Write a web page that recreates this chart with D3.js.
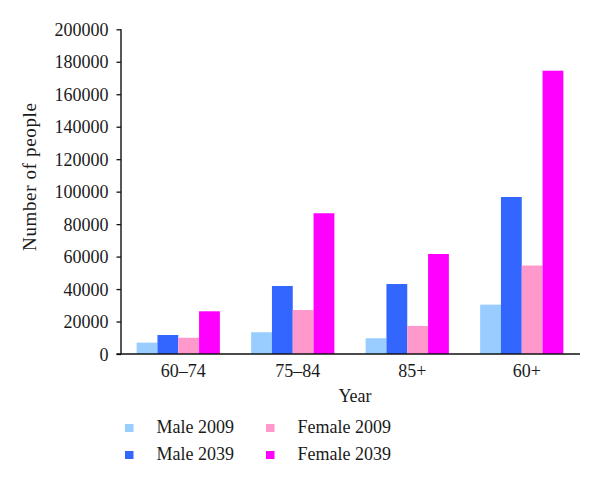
<!DOCTYPE html>
<html><head><meta charset="utf-8">
<script src="https://cdn.jsdelivr.net/npm/d3@7"></script>
<style>body{margin:0;background:#fff}svg{display:block}text{font-family:"Liberation Serif","Times New Roman",serif;fill:#1a1a1a}</style>
</head><body><svg id="c" width="600" height="483"></svg>
<script>
const categories = ["60–74","75–84","85+","60+"];
const seriesNames = ["Male 2009","Male 2039","Female 2009","Female 2039"];
const male2009 = [7000, 13400, 9700, 30400];
const male2039 = [11700, 41900, 43100, 96700];
const female2009 = [10000, 27100, 17300, 54500];
const female2039 = [26300, 86700, 61600, 174500];
const yTicks = [0,20000,40000,60000,80000,100000,120000,140000,160000,180000,200000];
const colors = ["#99ccff","#3366ff","#ff99cc","#ff00ff"];

const series = [male2009, male2039, female2009, female2039];
const svg = d3.select("#c");
const x0 = d3.scaleBand().domain(categories).range([121,579]).paddingInner(0.273).paddingOuter(0.1365);
const x1 = d3.scaleBand().domain(seriesNames).range([0,x0.bandwidth()]);
const y = d3.scaleLinear().domain([0,200000]).range([354,29.3]);

const g = svg.append("g");
categories.forEach((c,i)=>{
  series.forEach((s,j)=>{
    g.append("rect").attr("x",x0(c)+x1(seriesNames[j])).attr("y",y(s[i]))
     .attr("width",x1.bandwidth()).attr("height",y(0)-y(s[i])).attr("fill",colors[j]);
  });
});

// y axis
const ya = svg.append("g").attr("transform","translate(121,0)")
  .call(d3.axisLeft(y).tickValues(yTicks).tickFormat(d3.format("d")).tickSize(4.5).tickPadding(8));
ya.select(".domain").attr("stroke","#111").attr("stroke-width",1.4).attr("d","M0,29.3V354");
ya.selectAll(".tick line").attr("stroke","#111").attr("stroke-width",1.3);
ya.selectAll(".tick text").attr("font-size",18).attr("font-family","Liberation Serif").attr("fill","#1a1a1a").attr("dy","0.34em");

// x axis
const xa = svg.append("g").attr("transform","translate(0,354)")
  .call(d3.axisBottom(x0).tickSize(0).tickPadding(10));
xa.select(".domain").attr("stroke","#111").attr("stroke-width",1.4).attr("d","M116.5,0H580");
xa.selectAll(".tick text").attr("font-size",18).attr("font-family","Liberation Serif").attr("fill","#1a1a1a").attr("dx",5).attr("dy","0.71em");

svg.append("text").attr("x",355).attr("y",401.5).attr("text-anchor","middle").attr("font-size",18).text("Year");
svg.append("text").attr("transform","translate(36,177) rotate(-90)").attr("text-anchor","middle")
  .attr("font-size",19).attr("textLength",148).attr("lengthAdjust","spacing").text("Number of people");

// legend
const legPos = [[125,424],[125,451],[266,424],[266,451]];
seriesNames.forEach((n,j)=>{
  const [lx,ly] = legPos[j];
  svg.append("rect").attr("x",lx).attr("y",ly).attr("width",8.5).attr("height",8).attr("fill",colors[j]);
  svg.append("text").attr("x",lx+31.5).attr("y",ly+8.7).attr("font-size",18).text(n);
});
</script></body></html>
